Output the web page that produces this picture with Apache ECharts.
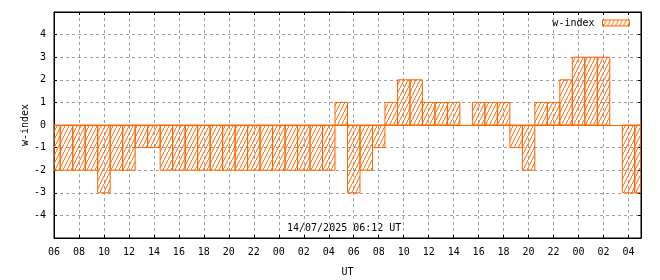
<!DOCTYPE html>
<html><head><meta charset="utf-8">
<script src="https://cdn.jsdelivr.net/npm/echarts@6/dist/echarts.min.js"></script>
<style>html,body{margin:0;padding:0;background:#fff}#c{width:660px;height:280px}</style>
</head><body><div id="c"></div>
<script>
// Hourly categories (UT), from 06 on day 1 to 05 on day 3
const categories = ['06','07','08','09','10','11','12','13','14','15','16','17','18','19','20','21','22','23',
  '00','01','02','03','04','05',
  '06','07','08','09','10','11','12','13','14','15','16','17','18','19','20','21','22','23',
  '00','01','02','03','04','05'];
// w-index values per hour
const wIndex = [-2,-2,-2,-2,-3,-2,-2,-1,-1,-2,-2,-2,-2,-2,-2,-2,-2,-2,-2,-2,-2,-2,-2,1,
  -3,-2,-1,1,2,2,1,1,1,0,1,1,1,-1,-2,1,1,2,3,3,3,0,-3,-3];
const yTicks = [-4,-3,-2,-1,0,1,2,3,4];
const seriesName = 'w-index';
const xName = 'UT';
const yName = 'w-index';
const stamp = '14/07/2025 06:12 UT';

const ORANGE = '#ff6600';
const FONT = '"DejaVu Sans Mono", "Liberation Mono", monospace';

const pc = document.createElement('canvas');
pc.width = 4; pc.height = 8;
const g = pc.getContext('2d');
g.strokeStyle = ORANGE; g.lineWidth = 1;
g.beginPath(); g.moveTo(-1, 10); g.lineTo(5, -2); g.stroke();
const hatch = { image: pc, repeat: 'repeat' };

function renderBar(params, api) {
  const idx = api.value(0), v = api.value(1);
  const p0 = api.coord([idx, 0]);
  const p1 = api.coord([idx, v]);
  const w = api.size([1, 0])[0];
  const cs = params.coordSys;
  const r = echarts.graphic.clipRectByRect(
    { x: p0[0] - w / 2, y: Math.min(p0[1], p1[1]), width: w, height: Math.abs(p1[1] - p0[1]) },
    { x: cs.x, y: cs.y, width: cs.width, height: cs.height });
  if (!r || r.height <= 0) return null;
  return { type: 'rect', shape: r, style: api.style() };
}

const chart = echarts.init(document.getElementById('c'), null, { renderer: 'canvas' });
const txt = { fontFamily: FONT, fontSize: 10, color: '#000' };
chart.setOption({
  animation: false,
  backgroundColor: '#fff',
  grid: { left: 54, right: 19, top: 12, bottom: 42, show: true, borderColor: '#000', borderWidth: 1,
    containLabel: false, outerBoundsMode: 'none' },
  legend: {
    right: 25, top: 13, align: 'right', icon: 'rect', itemWidth: 27, itemHeight: 6,
    textStyle: Object.assign({ padding: [0, 3, 0, 0] }, txt),
    itemStyle: { color: hatch, borderColor: ORANGE, borderWidth: 1 },
    data: [seriesName]
  },
  xAxis: [{
    type: 'category', data: categories, boundaryGap: false, position: 'bottom',
    name: xName, nameLocation: 'middle', nameGap: 29, nameTextStyle: txt, nameMoveOverlap: false,
    axisLine: { onZero: false, lineStyle: { color: '#000', width: 1 } },
    axisTick: { show: true, inside: true, length: 3, interval: 1, lineStyle: { color: '#000' } },
    axisLabel: Object.assign({ interval: 1, margin: 9 }, txt),
    splitLine: { show: true, interval: 1, lineStyle: { color: '#a0a0a0', type: [3, 3], width: 1 } }
  }, {
    type: 'category', data: categories, boundaryGap: false, position: 'top',
    axisLine: { onZero: false, lineStyle: { color: '#000' } },
    axisTick: { show: true, inside: true, length: 3, interval: 1, lineStyle: { color: '#000' } },
    axisLabel: { show: false }, splitLine: { show: false }
  }],
  yAxis: [{
    type: 'value', min: -5, max: 5, interval: 1, position: 'left',
    name: yName, nameLocation: 'middle', nameGap: 24, nameRotate: 90, nameTextStyle: txt, nameMoveOverlap: false,
    axisLine: { show: true, onZero: false, lineStyle: { color: '#000' } },
    axisTick: { show: true, inside: true, length: 3, lineStyle: { color: '#000' } },
    axisLabel: Object.assign({ margin: 8, formatter: v => yTicks.indexOf(v) >= 0 ? String(v) : '' }, txt),
    splitLine: { show: true, lineStyle: { color: '#a0a0a0', type: [3, 3], width: 1 } }
  }, {
    type: 'value', min: -5, max: 5, interval: 1, position: 'right',
    axisLine: { show: true, onZero: false, lineStyle: { color: '#000' } },
    axisTick: { show: true, inside: true, length: 3, lineStyle: { color: '#000' } },
    axisLabel: { show: false }, splitLine: { show: false }
  }],
  series: [{
    name: seriesName, type: 'custom', renderItem: renderBar,
    data: wIndex.map((v, i) => [i, v]),
    encode: { x: 0, y: 1 },
    xAxisIndex: 0, yAxisIndex: 0, clip: true,
    itemStyle: { color: hatch, borderColor: ORANGE, borderWidth: 1 },
    markLine: {
      silent: true, symbol: 'none', label: { show: false },
      lineStyle: { color: ORANGE, type: 'solid', width: 1 },
      data: [{ yAxis: 0 }]
    }
  }],
  graphic: [{
    type: 'text', left: 287, top: 223,
    style: { text: stamp, font: '10px ' + FONT, fill: '#000' }
  }]
});
</script></body></html>
